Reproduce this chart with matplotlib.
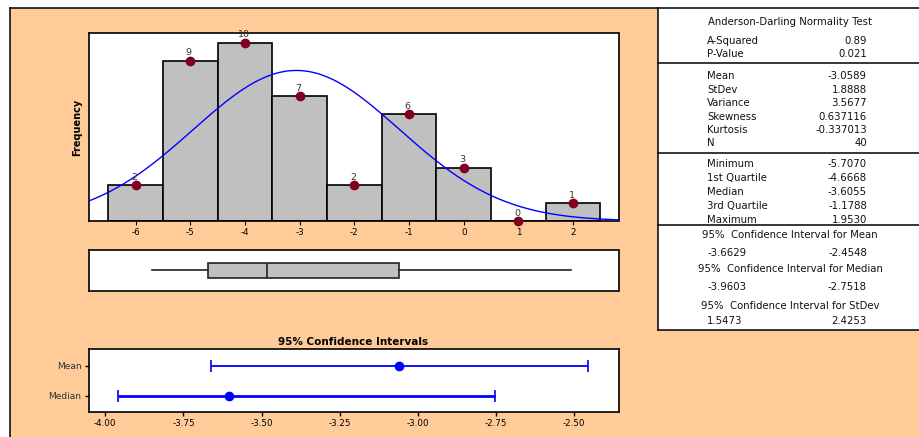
import numpy as np
import matplotlib
matplotlib.use('Agg')
import matplotlib.pyplot as plt
from matplotlib.patches import Rectangle

# histogram data
bin_centers = [-6, -5, -4, -3, -2, -1, 0, 1, 2]
counts = [2, 9, 10, 7, 2, 6, 3, 0, 1]

# summary stats
mean_val = -3.0589
std_val = 1.8888
n_obs = 40
minimum, q1, median, q3, maximum = -5.7070, -4.6668, -3.6055, -1.1788, 1.9530
mean_ci = (-3.6629, -2.4548)
median_ci = (-3.9603, -2.7518)
std_ci = (1.5473, 2.4253)

ad_labels = ['A-Squared', 'P-Value']
ad_values = ['0.89', '0.021']
desc_labels = ['Mean', 'StDev', 'Variance', 'Skewness', 'Kurtosis', 'N']
desc_values = ['-3.0589', '1.8888', '3.5677', '0.637116', '-0.337013', '40']
quart_labels = ['Minimum', '1st Quartile', 'Median', '3rd Quartile', 'Maximum']
quart_values = ['-5.7070', '-4.6668', '-3.6055', '-1.1788', '1.9530']

orange = '#FFCC99'
W, H = 919, 437
fig = plt.figure(figsize=(W/100, H/100), dpi=100)

# background layer in pixel coords
bg = fig.add_axes([0, 0, 1, 1])
bg.set_xlim(0, W)
bg.set_ylim(H, 0)
bg.axis('off')
bg.add_patch(Rectangle((10, 8), W-10, H-8, facecolor=orange, edgecolor='none'))
bg.add_patch(Rectangle((658, 8), W-658, 322, facecolor='white', edgecolor='none'))
lk = dict(color='black', lw=1.1)
bg.plot([10, W], [8, 8], **lk)
bg.plot([10, 10], [8, H], **lk)
bg.plot([658, 658], [8, 330], **lk)
bg.plot([658, W], [330, 330], **lk)
for yy in [62.5, 152.5, 225]:
    bg.plot([658, W], [yy, yy], **lk)

fs = 7.3
tc = '#111111'
bg.text(790, 22, 'Anderson-Darling Normality Test', ha='center', va='center', fontsize=fs, color=tc)

def block(labels, values, y0, step):
    for i, (l, v) in enumerate(zip(labels, values)):
        y = y0 + i*step
        bg.text(707, y, l, ha='left', va='center', fontsize=fs, color=tc)
        bg.text(867, y, v, ha='right', va='center', fontsize=fs, color=tc)

block(ad_labels, ad_values, 40.5, 13.2)
block(desc_labels, desc_values, 76.3, 13.4)
block(quart_labels, quart_values, 164.3, 13.85)

ci_rows = [('Mean', mean_ci, 235.3, 253), ('Median', median_ci, 269.3, 287.3), ('StDev', std_ci, 305.7, 321.3)]
for name, ci, yt, yv in ci_rows:
    bg.text(790, yt, '95%  Confidence Interval for ' + name, ha='center', va='center', fontsize=fs, color=tc)
    bg.text(707, yv, '%.4f' % ci[0], ha='left', va='center', fontsize=fs, color=tc)
    bg.text(867, yv, '%.4f' % ci[1], ha='right', va='center', fontsize=fs, color=tc)

# histogram
left = 88.5 / W
width = 530 / W
ax = fig.add_axes([left, 1 - 221/H, width, 188/H])
ax.bar(bin_centers, counts, width=1.0, color='#C0C0C0', edgecolor='black', linewidth=1.2, zorder=2)
xlim = (-6.86, 2.83)
xs = np.linspace(xlim[0], xlim[1], 300)
curve = n_obs / (std_val*np.sqrt(2*np.pi)) * np.exp(-0.5*((xs-mean_val)/std_val)**2)
ax.plot(xs, curve, color='#0000FF', lw=1.0, zorder=3)
ax.plot(bin_centers, counts, 'o', color='#800020', ms=6, zorder=4, clip_on=False)
for xc, c in zip(bin_centers, counts):
    ax.annotate(str(c), (xc, c), xytext=(-1, 2.5), textcoords='offset points', ha='center', va='bottom',
                fontsize=6.8, color='#333333', zorder=5)
ax.set_xlim(xlim)
ax.set_ylim(0, 10.55)
ax.set_xticks(bin_centers)
ax.set_xticklabels([str(b) for b in bin_centers], fontsize=6.3)
ax.set_yticks([])
ax.tick_params(axis='x', length=3, width=0.8, pad=2)
ax.set_ylabel('Frequency', fontsize=7, fontweight='bold')
ax.yaxis.set_label_coords(-0.012, 0.5)
for s in ax.spines.values():
    s.set_linewidth(1.2)

# boxplot
axb = fig.add_axes([left, 1 - 291/H, width, 41.3/H])
stats = [{'whislo': minimum, 'q1': q1, 'med': median, 'q3': q3, 'whishi': maximum}]
axb.bxp(stats, orientation='horizontal', widths=0.36, showfliers=False, showcaps=False, patch_artist=True,
        boxprops=dict(facecolor='#C0C0C0', edgecolor='#222222', linewidth=1.2),
        medianprops=dict(color='#222222', linewidth=1.2),
        whiskerprops=dict(color='#222222', linewidth=1.2))
axb.set_xlim(xlim)
axb.set_ylim(0.5, 1.5)
axb.set_xticks([])
axb.set_yticks([])
for s in axb.spines.values():
    s.set_linewidth(1.2)

# confidence intervals
axc = fig.add_axes([left, 1 - 411.7/H, width, 62.4/H])
ci_names = ['Mean', 'Median']
ci_centers = [mean_val, median]
ci_lo = [mean_ci[0], median_ci[0]]
ci_hi = [mean_ci[1], median_ci[1]]
ci_y = [1, 0]
ci_lw = [1.3, 2.0]
for i in range(2):
    axc.errorbar(ci_centers[i], ci_y[i], xerr=[[ci_centers[i]-ci_lo[i]], [ci_hi[i]-ci_centers[i]]],
                 fmt='o', color='#0000FF', ms=6, capsize=4.3, elinewidth=ci_lw[i], capthick=1.2)
axc.set_xlim(-4.0537, -2.358)
axc.set_ylim(-0.52, 1.54)
axc.set_xticks([-4.0, -3.75, -3.5, -3.25, -3.0, -2.75, -2.5])
axc.set_xticklabels(['-4.00', '-3.75', '-3.50', '-3.25', '-3.00', '-2.75', '-2.50'], fontsize=6.3)
axc.set_yticks(ci_y)
axc.set_yticklabels(ci_names, fontsize=6.5, color='#333333')
axc.tick_params(length=3, width=1.0, pad=2)
axc.set_title('95% Confidence Intervals', fontsize=7.5, fontweight='bold', pad=3)
for s in axc.spines.values():
    s.set_linewidth(1.2)

fig.savefig('out.png', dpi=100)
